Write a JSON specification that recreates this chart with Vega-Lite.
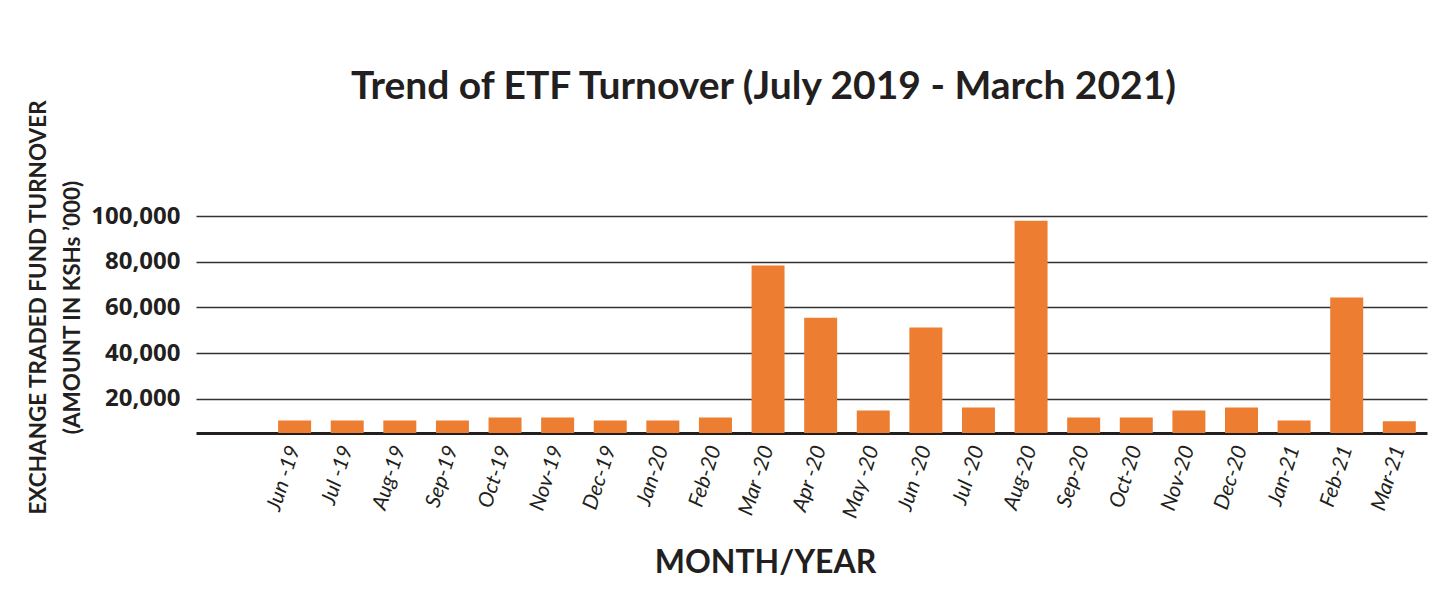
{
  "$schema": "https://vega.github.io/schema/vega-lite/v6.json",
  "autosize": {"type": "none"},
  "width": 1231,
  "height": 217,
  "padding": {"left": 196, "top": 216, "right": 24, "bottom": 161},
  "background": "#ffffff",
  "title": {
    "text": "Trend of ETF Turnover (July 2019 - March 2021)",
    "font": "Lato",
    "fontSize": 39,
    "fontWeight": "bold",
    "color": "#231f20",
    "anchor": "middle",
    "dx": -48,
    "dy": 9,
    "offset": 1
  },
  "data": {
    "values": [
      {"month": "Jun -19", "turnover": 10500},
      {"month": "Jul -19", "turnover": 10500},
      {"month": "Aug-19", "turnover": 10500},
      {"month": "Sep-19", "turnover": 10500},
      {"month": "Oct-19", "turnover": 11800},
      {"month": "Nov-19", "turnover": 11800},
      {"month": "Dec-19", "turnover": 10500},
      {"month": "Jan-20", "turnover": 10500},
      {"month": "Feb-20", "turnover": 11800},
      {"month": "Mar -20", "turnover": 78300},
      {"month": "Apr -20", "turnover": 55500},
      {"month": "May -20", "turnover": 14900},
      {"month": "Jun -20", "turnover": 51200},
      {"month": "Jul -20", "turnover": 16200},
      {"month": "Aug-20", "turnover": 97900},
      {"month": "Sep-20", "turnover": 11800},
      {"month": "Oct-20", "turnover": 11800},
      {"month": "Nov-20", "turnover": 14900},
      {"month": "Dec-20", "turnover": 16200},
      {"month": "Jan-21", "turnover": 10500},
      {"month": "Feb-21", "turnover": 64300},
      {"month": "Mar-21", "turnover": 10100}
    ]
  },
  "mark": {"type": "bar", "color": "#ed7d31", "clip": true},
  "encoding": {
    "x": {
      "field": "month",
      "type": "nominal",
      "sort": null,
      "scale": {"paddingInner": 0.373, "paddingOuter": 0.887, "align": 0.88},
      "axis": {
        "title": "MONTH/YEAR",
        "titleFont": "Lato",
        "titleFontSize": 32,
        "titleFontWeight": "bold",
        "titleColor": "#231f20",
        "titleX": 569,
        "titleY": 129,
        "titleBaseline": "middle",
        "labelAngle": -72,
        "labelAlign": "right",
        "labelBaseline": "middle",
        "labelFont": "Lato",
        "labelFontSize": 21,
        "labelFontStyle": "italic",
        "labelColor": "#231f20",
        "labelPadding": 13,
        "ticks": false,
        "domainColor": "#231f20",
        "domainWidth": 3,
        "grid": false
      }
    },
    "y": {
      "field": "turnover",
      "type": "quantitative",
      "scale": {"domain": [5000, 100000], "nice": false, "zero": false},
      "axis": {
        "title": ["EXCHANGE TRADED FUND TURNOVER", "(AMOUNT IN KSHs ’000)"],
        "titleFont": "Lato",
        "titleFontSize": 22.5,
        "titleFontWeight": "bold",
        "titleColor": "#231f20",
        "titleAngle": -90,
        "titleAlign": "center",
        "titleBaseline": "middle",
        "titleLineHeight": 34,
        "titleX": -158,
        "titleY": 91,
        "values": [20000, 40000, 60000, 80000, 100000],
        "format": ",d",
        "labelFont": "Open Sans",
        "labelFontSize": 24,
        "labelFontWeight": "bold",
        "labelColor": "#231f20",
        "labelPadding": 16,
        "ticks": false,
        "domain": false,
        "grid": true,
        "gridColor": "#333333",
        "gridWidth": 1.5
      }
    }
  },
  "config": {"view": {"stroke": null}}
}
